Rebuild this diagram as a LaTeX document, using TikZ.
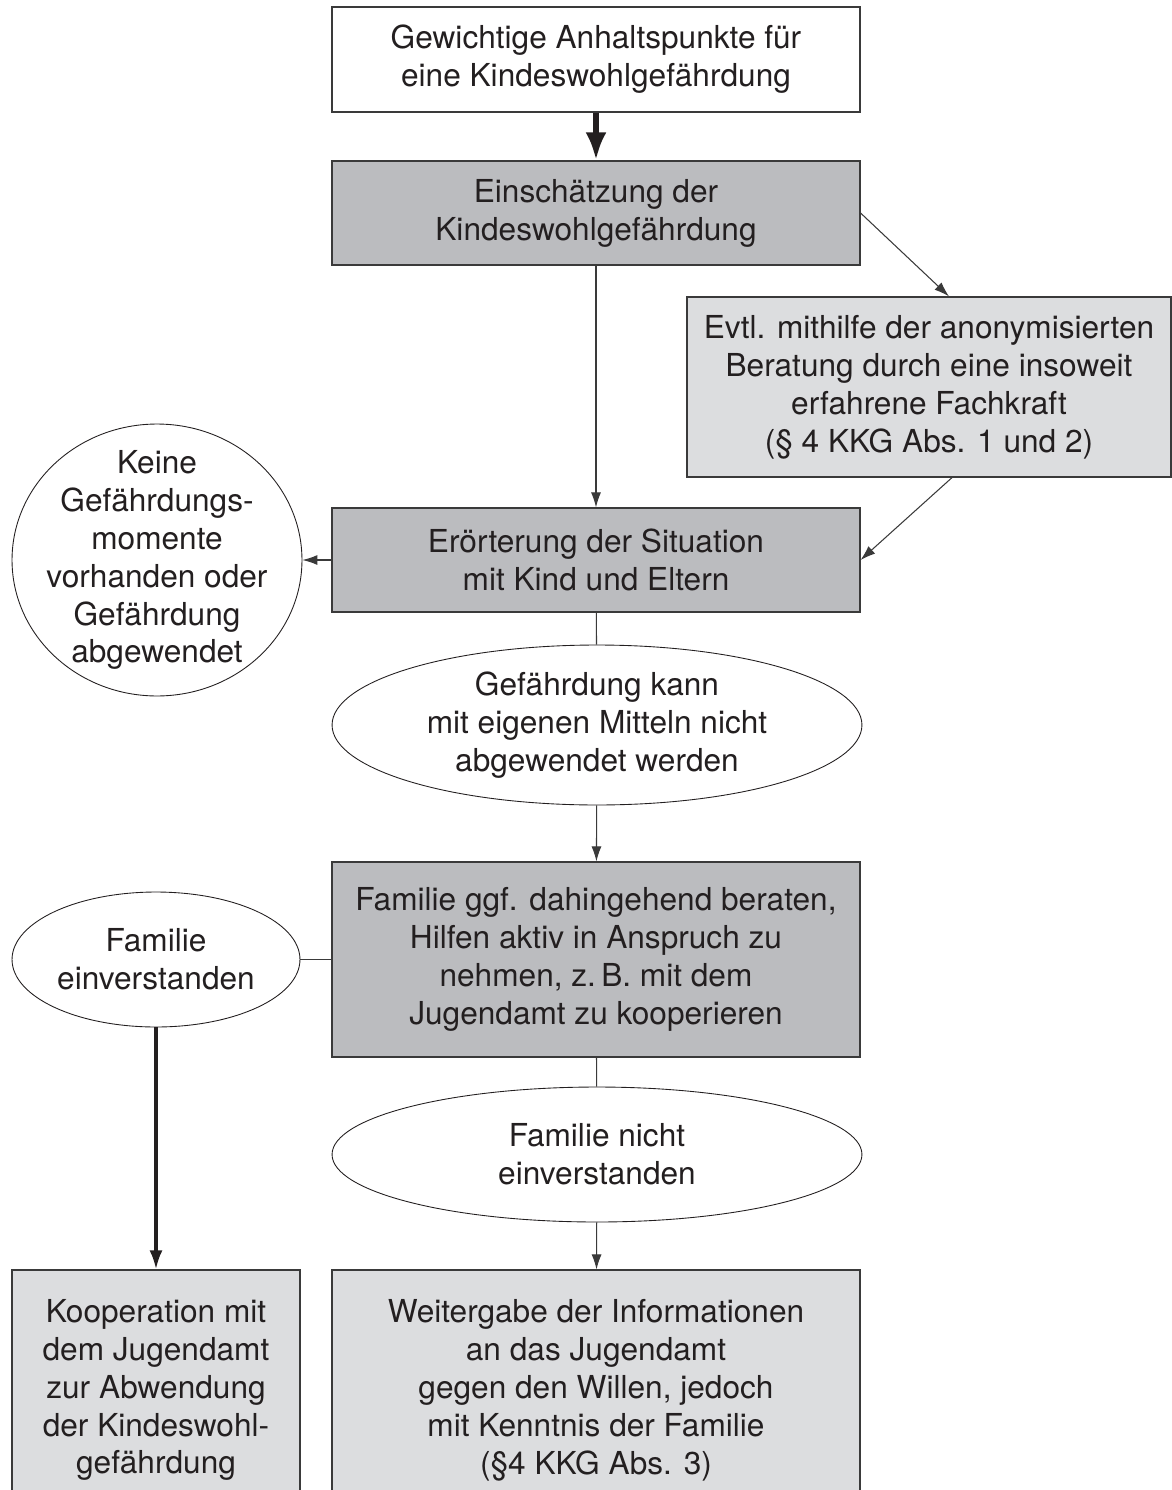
\documentclass[tikz,border=0pt]{standalone}
\usepackage{fontspec}
\setmainfont{TeX Gyre Heros}
\usetikzlibrary{shapes.geometric, arrows.meta, positioning}

\definecolor{darkfill}{HTML}{BBBCBF}
\definecolor{lightfill}{HTML}{DCDDDF}
\definecolor{linegray}{HTML}{3A3A3A}
\definecolor{textblack}{HTML}{231F20}

\begin{document}
\begin{tikzpicture}[
  x=0.02cm, y=-0.02cm,
  font=\fontsize{18}{21.6}\selectfont,
  every node/.style={text=textblack, align=center, inner sep=0pt},
  box/.style={rectangle, draw=linegray, line width=0.7pt, minimum width=10.56cm},
  darkbox/.style={box, fill=darkfill},
  lightbox/.style={box, fill=lightfill},
  oval/.style={ellipse, draw=textblack, line width=0.5pt, fill=white, inner sep=-1cm},
  conn/.style={draw=linegray, line width=0.6pt},
  arr/.style={conn, -{Latex[length=0.3cm, width=0.2cm]}},
  bigarr/.style={draw=textblack, line width=3.5pt, -{Latex[length=0.56cm, width=0.42cm]}},
  midarr/.style={draw=textblack, line width=1.8pt, -{Latex[length=0.38cm, width=0.26cm]}}]

  \useasboundingbox (0,0) rectangle (1171,1490);

  % boxes and ovals
  \node[box, fill=white, minimum height=2.1cm] (anhalt) at (596,59.5)
    {Gewichtige Anhaltspunkte für\\eine Kindeswohlgefährdung};
  \node[darkbox, minimum height=2.08cm] (einsch) at (596,213)
    {Einschätzung der\\Kindeswohlgefährdung};
  \node[lightbox, minimum width=9.68cm, minimum height=3.6cm] (beratung) at (929,387)
    {Evtl. mithilfe der anonymisierten\\Beratung durch eine insoweit\\erfahrene Fachkraft\\(§ 4 KKG Abs. 1 und 2)};
  \node[darkbox, minimum height=2.08cm] (eroert) at (596,560)
    {Erörterung der Situation\\mit Kind und Eltern};
  \node[oval, minimum width=5.8cm, minimum height=5.44cm] (keine) at (157,560)
    {Keine\\Gefährdungs-\\momente\\vorhanden oder\\Gefährdung\\abgewendet};
  \node[oval, minimum width=10.6cm, minimum height=3.2cm] (mittel) at (597,725)
    {Gefährdung kann\\mit eigenen Mitteln nicht\\abgewendet werden};
  \node[darkbox, minimum height=3.9cm] (beraten) at (596,959.5)
    {Familie ggf. dahingehend beraten,\\Hilfen aktiv in Anspruch zu\\nehmen, z.\,B. mit dem\\Jugendamt zu kooperieren};
  \node[oval, minimum width=5.76cm, minimum height=2.7cm] (einv) at (156,959.5)
    {Familie\\einverstanden};
  \node[oval, minimum width=10.6cm, minimum height=2.7cm] (nichteinv) at (597,1154.5)
    {Familie nicht\\einverstanden};
  \node[lightbox, minimum width=5.76cm, minimum height=4.8cm] (koop) at (156,1390)
    {Kooperation mit\\dem Jugendamt\\zur Abwendung\\der Kindeswohl-\\gefährdung};
  \node[lightbox, minimum height=4.8cm] (weiter) at (596,1390)
    {Weitergabe der Informationen\\an das Jugendamt\\gegen den Willen, jedoch\\mit Kenntnis der Familie\\(§4 KKG Abs. 3)};

  % connectors
  \draw[bigarr] (anhalt) -- (einsch);
  \draw[arr] (einsch.east) -- ([xshift=0.4cm]beratung.north);
  \draw[arr] ([xshift=0.46cm]beratung.south) -- (eroert.east);
  \draw[arr] (einsch) -- (eroert);
  \draw[arr] (eroert) -- (keine);
  \draw[conn] (eroert) -- (mittel);
  \draw[arr] (mittel) -- (beraten);
  \draw[conn] (einv) -- (beraten);
  \draw[conn] (beraten) -- (nichteinv);
  \draw[arr] (nichteinv) -- (weiter);
  \draw[midarr] (einv) -- (koop);
\end{tikzpicture}
\end{document}
